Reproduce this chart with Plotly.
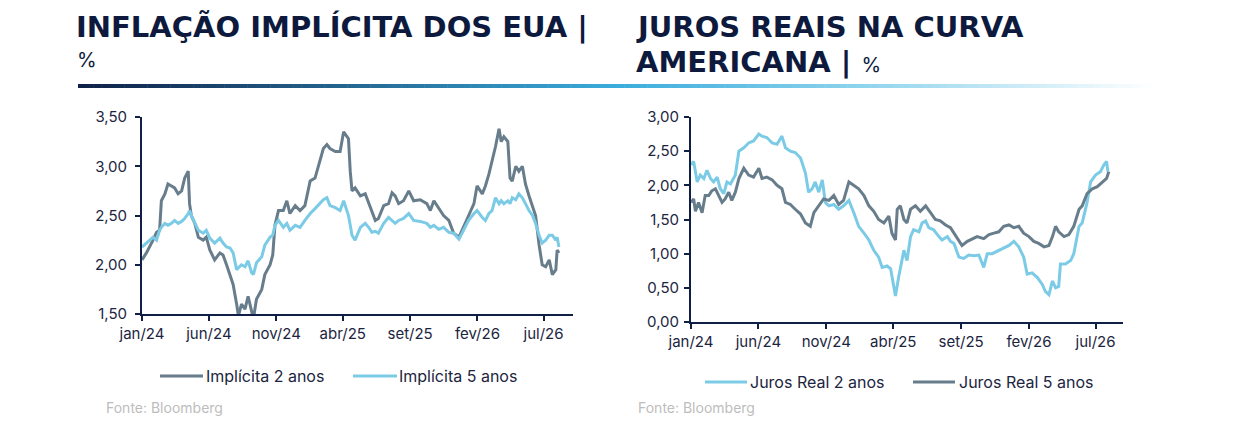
import pandas as pd
import plotly.graph_objects as go

W, H = 1240, 429
OFF = 8  # the page body margin shifts the figure by 8px
NAVY = "#0f1f45"
TEXT = "#1c2540"
DARK = "#687d8c"
LIGHT = "#7ccbe6"

BASE = pd.Timestamp("2024-01-01")

# --- inflação implícita (dias desde 01/01/2024) ---
inf_days = [0, 10, 25, 33, 40, 44, 52, 59, 67, 74, 82, 90, 97, 105, 108, 112, 120, 128,
            139, 146, 154, 165, 177, 184, 192, 200, 207, 215, 219, 226, 234, 241, 249, 253,
            260, 272, 279, 291, 297, 302, 310, 321, 329, 336, 348, 359, 370, 382, 393, 404,
            412, 420, 427, 439, 450, 458, 465, 469, 473, 477, 484, 496, 507, 515, 522, 530,
            537, 549, 560, 568, 575, 583, 594, 606, 617, 632, 647, 655, 663, 674, 685, 697,
            708, 720, 731, 742, 754, 761, 773, 780, 788, 795, 803, 811, 816, 822, 831, 836,
            841, 849, 856, 864, 871, 879, 887, 894, 902, 909, 917, 925, 932, 940, 943, 947]
impl_2a = [2.05, 2.12, 2.25, 2.33, 2.35, 2.65, 2.72, 2.82, 2.80, 2.78, 2.72, 2.75, 2.88, 2.95,
           2.62, 2.50, 2.42, 2.28, 2.25, 2.28, 2.15, 2.05, 2.12, 2.10, 2.00, 1.90, 1.80, 1.60,
           1.48, 1.60, 1.55, 1.68, 1.55, 1.45, 1.65, 1.75, 1.90, 2.00, 2.10, 2.40, 2.55, 2.55,
           2.65, 2.52, 2.60, 2.55, 2.60, 2.85, 2.88, 3.05, 3.18, 3.22, 3.18, 3.15, 3.15, 3.35,
           3.30, 3.28, 2.95, 2.75, 2.78, 2.70, 2.72, 2.62, 2.55, 2.45, 2.47, 2.60, 2.62, 2.73,
           2.70, 2.62, 2.65, 2.75, 2.65, 2.66, 2.62, 2.55, 2.65, 2.58, 2.50, 2.45, 2.32, 2.28,
           2.40, 2.50, 2.62, 2.80, 2.72, 2.80, 2.92, 3.05, 3.20, 3.38, 3.25, 3.30, 3.25, 2.88,
           2.85, 3.00, 2.95, 3.00, 2.82, 2.70, 2.60, 2.50, 2.20, 2.00, 1.98, 2.05, 1.90, 1.95,
           2.15, 2.12]
impl_5a = [2.18, 2.22, 2.28, 2.25, 2.35, 2.38, 2.42, 2.40, 2.42, 2.45, 2.42, 2.44, 2.47, 2.52,
           2.55, 2.50, 2.42, 2.35, 2.32, 2.35, 2.27, 2.22, 2.27, 2.22, 2.18, 2.17, 2.12, 1.95,
           1.97, 2.00, 1.98, 2.04, 1.92, 1.90, 2.02, 2.08, 2.20, 2.28, 2.30, 2.40, 2.45, 2.38,
           2.42, 2.35, 2.40, 2.38, 2.45, 2.52, 2.57, 2.62, 2.66, 2.68, 2.60, 2.58, 2.55, 2.65,
           2.55, 2.50, 2.40, 2.30, 2.25, 2.38, 2.42, 2.38, 2.33, 2.34, 2.32, 2.42, 2.48, 2.45,
           2.42, 2.45, 2.47, 2.52, 2.45, 2.44, 2.42, 2.38, 2.40, 2.36, 2.38, 2.33, 2.32, 2.26,
           2.35, 2.45, 2.52, 2.55, 2.48, 2.45, 2.52, 2.55, 2.68, 2.62, 2.65, 2.62, 2.65, 2.62,
           2.68, 2.66, 2.72, 2.68, 2.62, 2.55, 2.50, 2.42, 2.30, 2.22, 2.25, 2.30, 2.30, 2.25,
           2.28, 2.18]

# --- juros reais ---
jr2_days = [0, 6, 14, 21, 29, 36, 44, 51, 59, 66, 74, 81, 89, 100, 108, 119, 130, 141, 153,
            160, 171, 183, 194, 205, 213, 224, 235, 247, 258, 265, 273, 280, 288, 296, 303,
            311, 322, 333, 344, 356, 367, 378, 390, 401, 412, 423, 431, 442, 450, 457, 461,
            468, 476, 480, 487, 495, 502, 514, 521, 529, 536, 547, 559, 566, 578, 585, 593,
            604, 615, 626, 638, 649, 660, 668, 679, 694, 705, 717, 728, 739, 750, 758, 769,
            781, 792, 799, 807, 815, 822, 829, 833, 844, 856, 863, 875, 882, 893, 901, 912,
            923, 931, 937, 940]
juros_2a = [2.30, 2.35, 2.05, 2.15, 2.10, 2.22, 2.10, 2.05, 2.12, 1.95, 1.88, 2.05, 2.02,
            2.15, 2.50, 2.55, 2.62, 2.65, 2.75, 2.72, 2.70, 2.62, 2.60, 2.72, 2.55, 2.50,
            2.48, 2.40, 2.18, 1.90, 1.95, 2.05, 1.90, 2.08, 1.75, 1.70, 1.72, 1.65, 1.70,
            1.78, 1.60, 1.40, 1.30, 1.20, 1.05, 0.95, 0.80, 0.82, 0.78, 0.55, 0.38, 0.65,
            0.95, 1.05, 0.90, 1.25, 1.35, 1.32, 1.45, 1.48, 1.38, 1.35, 1.25, 1.20, 1.25,
            1.18, 1.15, 0.95, 0.93, 0.98, 0.97, 0.98, 0.80, 1.00, 1.00, 1.05, 1.08, 1.12,
            1.18, 1.10, 0.95, 0.70, 0.72, 0.65, 0.55, 0.45, 0.40, 0.60, 0.50, 0.52, 0.85,
            0.85, 0.90, 1.00, 1.40, 1.45, 1.75, 2.05, 2.15, 2.20, 2.30, 2.35, 2.20]

jr5_days = [0, 6, 10, 17, 25, 32, 40, 47, 55, 62, 70, 77, 85, 92, 100, 108, 119, 130, 141,
            153, 160, 171, 183, 194, 205, 213, 224, 235, 247, 258, 269, 277, 288, 299, 311,
            322, 333, 344, 356, 367, 378, 390, 401, 412, 423, 435, 446, 453, 461, 465, 472,
            480, 487, 495, 506, 517, 529, 540, 551, 562, 574, 585, 593, 604, 611, 623, 634,
            645, 660, 672, 683, 694, 705, 717, 728, 739, 750, 762, 773, 784, 796, 807, 815,
            822, 829, 841, 852, 863, 875, 882, 893, 905, 916, 927, 937, 942]
juros_5a = [1.75, 1.80, 1.62, 1.75, 1.60, 1.85, 1.85, 1.92, 1.95, 1.85, 1.75, 1.80, 1.90,
            1.78, 1.90, 2.10, 2.25, 2.15, 2.12, 2.25, 2.10, 2.12, 2.08, 2.00, 1.95, 1.75,
            1.72, 1.65, 1.58, 1.45, 1.40, 1.60, 1.70, 1.80, 1.78, 1.85, 1.72, 1.78, 2.05,
            2.00, 1.95, 1.85, 1.70, 1.62, 1.50, 1.45, 1.55, 1.30, 1.20, 1.65, 1.70, 1.50,
            1.45, 1.65, 1.70, 1.62, 1.70, 1.60, 1.50, 1.48, 1.42, 1.38, 1.30, 1.18, 1.12,
            1.18, 1.22, 1.25, 1.22, 1.28, 1.30, 1.32, 1.40, 1.42, 1.38, 1.40, 1.30, 1.25,
            1.18, 1.15, 1.10, 1.12, 1.25, 1.40, 1.32, 1.25, 1.28, 1.40, 1.65, 1.70, 1.88,
            1.95, 1.98, 2.05, 2.10, 2.20]

tick_dates = ["2024-01-01", "2024-06-01", "2024-11-01", "2025-04-01",
              "2025-09-01", "2026-02-01", "2026-07-01"]
tick_labels = ["jan/24", "jun/24", "nov/24", "abr/25", "set/25", "fev/26", "jul/26"]


def to_dates(days):
    return BASE + pd.to_timedelta(days, unit="D")


def px(x):
    return (x - OFF) / W


def py(y):
    return 1 - (y - OFF) / H


fig = go.Figure()
fig.add_trace(go.Scatter(x=to_dates(inf_days), y=impl_2a, name="Implícita 2 anos",
                         line=dict(color=DARK, width=3), xaxis="x", yaxis="y"))
fig.add_trace(go.Scatter(x=to_dates(inf_days), y=impl_5a, name="Implícita 5 anos",
                         line=dict(color=LIGHT, width=3), xaxis="x", yaxis="y"))
fig.add_trace(go.Scatter(x=to_dates(jr2_days), y=juros_2a, name="Juros Real 2 anos",
                         line=dict(color=LIGHT, width=3), xaxis="x2", yaxis="y2"))
fig.add_trace(go.Scatter(x=to_dates(jr5_days), y=juros_5a, name="Juros Real 5 anos",
                         line=dict(color=DARK, width=3), xaxis="x2", yaxis="y2"))

tick_font = dict(family="Inter", size=15, color=TEXT)
axis_common = dict(showgrid=False, zeroline=False, showline=True, linecolor=NAVY, linewidth=2,
                   ticks="outside", ticklen=5, tickwidth=2, tickcolor=NAVY, tickfont=tick_font,
                   automargin=False)

fig.update_layout(
    width=W, height=H,
    margin=dict(l=0, r=0, t=0, b=0, autoexpand=False),
    paper_bgcolor="white", plot_bgcolor="white",
    separators=",.",
    showlegend=False,
    xaxis=dict(domain=[px(142), px(573)], anchor="y", type="date",
               range=["2024-01-01", "2026-09-06"], tickvals=tick_dates, ticktext=tick_labels,
               **axis_common),
    yaxis=dict(domain=[py(314), py(117)], anchor="x", range=[1.5, 3.5], dtick=0.5,
               tickformat=".2f", ticklabelstandoff=5, **axis_common),
    xaxis2=dict(domain=[px(691), px(1123)], anchor="y2", type="date",
                range=["2024-01-01", "2026-09-01"], tickvals=tick_dates, ticktext=tick_labels,
                **axis_common),
    yaxis2=dict(domain=[py(322), py(117)], anchor="x2", range=[0, 3], dtick=0.5,
                tickformat=".2f", ticklabelstandoff=2, **axis_common),
)

# legends drawn by hand: (line start, line end, text start, y, colour, label)
legend_items = [
    (160, 203, 206, 376, DARK, "Implícita 2 anos"),
    (353, 397, 399, 376, LIGHT, "Implícita 5 anos"),
    (705, 747, 750, 382, LIGHT, "Juros Real 2 anos"),
    (913, 955, 959, 382, DARK, "Juros Real 5 anos"),
]
for x0, x1, xt, y, color, label in legend_items:
    fig.add_shape(type="line", xref="paper", yref="paper", x0=px(x0), x1=px(x1),
                  y0=py(y), y1=py(y), line=dict(color=color, width=3))
    fig.add_annotation(x=px(xt - 2), y=py(y), xref="paper", yref="paper", xanchor="left",
                       yanchor="middle", showarrow=False, text=label,
                       font=dict(family="Inter", size=16, color=TEXT))

# titles
title_font = dict(family="DejaVu Sans", size=29, color="#0d1a3d", weight=700)
fig.add_annotation(x=px(74), y=py(27), xref="paper", yref="paper", xanchor="left",
                   yanchor="middle", showarrow=False, font=title_font,
                   text="INFLAÇÃO IMPLÍCITA DOS EUA |")
fig.add_annotation(x=px(75), y=py(60), xref="paper", yref="paper", xanchor="left",
                   yanchor="middle", showarrow=False,
                   font=dict(family="Inter", size=20, color="#0d1a3d"), text="%")
fig.add_annotation(x=px(634), y=py(27), xref="paper", yref="paper", xanchor="left",
                   yanchor="middle", showarrow=False, font=title_font,
                   text="JUROS REAIS NA CURVA")
fig.add_annotation(x=px(634), y=py(62), xref="paper", yref="paper", xanchor="left",
                   yanchor="middle", showarrow=False, font=title_font,
                   text="AMERICANA | <span style='font-family:Inter;font-size:20px;font-weight:400'>%</span>")

# sources
src_font = dict(family="Inter", size=14, color="#bdbdbd")
fig.add_annotation(x=px(104), y=py(407), xref="paper", yref="paper", xanchor="left",
                   yanchor="middle", showarrow=False, font=src_font, text="Fonte: Bloomberg")
fig.add_annotation(x=px(636), y=py(407), xref="paper", yref="paper", xanchor="left",
                   yanchor="middle", showarrow=False, font=src_font, text="Fonte: Bloomberg")

# gradient rule under the titles
stops = [(0.0, (15, 32, 70)), (0.5, (58, 172, 220)), (0.72, (140, 210, 236)), (1.0, (255, 255, 255))]


def grad(t):
    for (t0, c0), (t1, c1) in zip(stops, stops[1:]):
        if t <= t1:
            f = (t - t0) / (t1 - t0)
            return "rgb(%d,%d,%d)" % tuple(round(a + (b - a) * f) for a, b in zip(c0, c1))
    return "rgb(255,255,255)"


x_start, x_end, n_seg = 78, 1155, 140
seg = (x_end - x_start) / n_seg
for i in range(n_seg):
    fig.add_shape(type="line", xref="paper", yref="paper",
                  x0=px(x_start + i * seg), x1=px(x_start + (i + 1) * seg + 0.5),
                  y0=py(86), y1=py(86), line=dict(color=grad((i + 0.5) / n_seg), width=4))

fig.write_html("out.html")
